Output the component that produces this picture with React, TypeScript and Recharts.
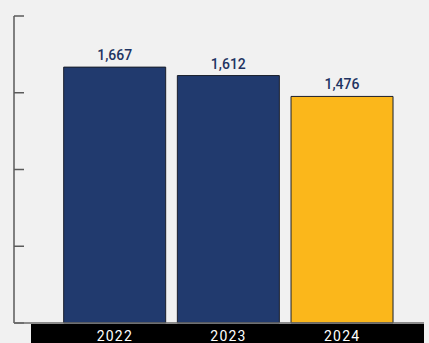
import { Bar, BarChart, Cell, LabelList, XAxis, YAxis } from "recharts";

// values
const years = ["2022", "2023", "2024"];
const values = [1667, 1612, 1476];
const barColors = ["#213a6e", "#213a6e", "#fbb71b"];
const yTicks = [0, 500, 1000, 1500, 2000];

const data = years.map((year, i) => ({ year, value: values[i] }));

// tick marks only, no labels
const NoLabel = () => <g />;

export default function App() {
    return (
        <div
            style={{
                position: "fixed",
                left: 0,
                top: 0,
                width: 429,
                height: 343,
                background: "#f1f1f1",
                fontFamily: "Roboto, sans-serif",
            }}
        >
            {/* black strip behind the year labels */}
            <div
                style={{
                    position: "absolute",
                    left: 31,
                    top: 324,
                    width: 393,
                    height: 19,
                    background: "#000",
                }}
            />
            <BarChart
                width={429}
                height={343}
                data={data}
                margin={{ top: 16, right: 5, bottom: 0, left: 14 }}
                barCategoryGap="5%"
                style={{ position: "absolute", left: 0, top: 0 }}
            >
                <YAxis
                    width={1}
                    domain={[0, 2000]}
                    ticks={yTicks}
                    tick={NoLabel}
                    mirror
                    tickSize={10}
                    stroke="#5a5a5a"
                    strokeWidth={1.5}
                />
                <XAxis
                    dataKey="year"
                    height={20}
                    padding={{ left: 44, right: 25 }}
                    tickLine={false}
                    stroke="#6a6a6a"
                    strokeWidth={1.5}
                    tick={{ fill: "#ffffff", fontSize: 14, letterSpacing: 1.2 }}
                />
                <Bar
                    dataKey="value"
                    stroke="#1a1f2c"
                    strokeWidth={1}
                    isAnimationActive={false}
                >
                    {data.map((d, i) => (
                        <Cell key={d.year} fill={barColors[i]} />
                    ))}
                    <LabelList
                        dataKey="value"
                        position="top"
                        offset={7}
                        fill="#1f3462"
                        fontSize={14}
                        fontWeight={500}
                        formatter={(v: number) => v.toLocaleString("en-US")}
                    />
                </Bar>
            </BarChart>
        </div>
    );
}
